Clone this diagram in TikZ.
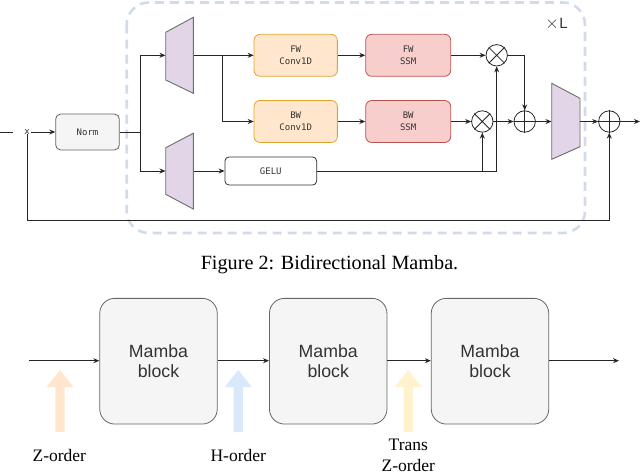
\documentclass[tikz,border=0pt]{standalone}
\usepackage{fontspec}
\setmainfont{Liberation Serif}
\newfontfamily\monof{DejaVu Sans Mono}
\newfontfamily\arialf{Liberation Sans}
\usetikzlibrary{arrows.meta}
\definecolor{grayfill}{HTML}{F5F5F5}
\definecolor{graystroke}{HTML}{666666}
\definecolor{convfill}{HTML}{FFE6CC}
\definecolor{convstroke}{HTML}{E0A530}
\definecolor{ssmfill}{HTML}{F8CECC}
\definecolor{ssmstroke}{HTML}{B85450}
\definecolor{trapfill}{HTML}{E1D5E7}
\definecolor{trapstroke}{HTML}{6E6E6E}
\definecolor{dashcol}{HTML}{D2DBEC}
\definecolor{txtcol}{HTML}{333333}
\definecolor{zcol}{HTML}{FFE6CC}
\definecolor{hcol}{HTML}{DAE8FC}
\definecolor{tcol}{HTML}{FFF2CC}
\tikzset{
  arr/.style={line width=0.9pt, draw=black!85, -{Stealth[length=6pt,width=5pt]}},
  ln/.style={line width=0.9pt, draw=black!85},
  smalltxt/.style={font=\monof\fontsize{9}{12}\selectfont, text=txtcol, align=center},
  normbox/.style={smalltxt, draw=graystroke, fill=grayfill, rounded corners=5pt, line width=0.8pt, minimum width=63.6pt, minimum height=36pt, inner sep=0pt},
  convbox/.style={smalltxt, draw=convstroke, fill=convfill, rounded corners=6pt, line width=0.8pt, minimum width=83.3pt, minimum height=42pt, inner sep=0pt},
  ssmbox/.style={smalltxt, draw=ssmstroke, fill=ssmfill, rounded corners=6pt, line width=0.8pt, minimum width=85pt, minimum height=42pt, inner sep=0pt},
  gelubox/.style={smalltxt, draw=txtcol, fill=white, rounded corners=4pt, line width=0.8pt, minimum width=91.7pt, minimum height=28pt, inner sep=0pt},
  opcirc/.style={circle, draw=black!85, fill=white, line width=0.8pt, minimum size=21.4pt, inner sep=0pt},
  trapnode/.style={draw=none, minimum width=#1, minimum height=76pt, inner sep=0pt},
  trapshape/.style={draw=trapstroke, fill=trapfill, line width=0.9pt},
  dashbox/.style={draw=dashcol, line width=2.6pt, dash pattern=on 9pt off 6pt, rounded corners=22pt},
  mamba/.style={draw=graystroke, fill=grayfill, rounded corners=15pt, line width=0.8pt, minimum width=117.5pt, minimum height=125.7pt, font=\arialf\fontsize{17.7}{20}\selectfont, text=txtcol, align=center, inner sep=0pt},
  lbl/.style={font=\fontsize{17.5}{20.5}\selectfont, align=center, inner sep=0pt},
  pics/uparrow/.style={code={\fill[#1] (-4.6,62) -- (-4.6,17) -- (-13.4,17) -- (0,0) -- (13.4,17) -- (4.6,17) -- (4.6,62) -- cycle;}}
}
\begin{document}
\begin{tikzpicture}[x=1pt,y=-1pt]
\useasboundingbox (0,0) rectangle (640,474);
% dashed repeat frame
\draw[dashbox] (126.7,2.5) rectangle (585,233);
\node[font=\arialf\fontsize{15}{15}\selectfont, text=txtcol, inner sep=0pt] (xl) at (556.5,24) {{\fontsize{19}{19}\selectfont$\times$}\kern0.5pt L};

% nodes
\coordinate (in) at (0,132);
\node[smalltxt, inner sep=1.5pt] (x) at (27,132) {x};
\node[normbox] (norm) at (87.5,132) {Norm};
\coordinate (sp) at (140.7,132);

\node[trapnode=27.6pt] (t1) at (179.5,55.3) {};
\node[trapnode=27.6pt] (t2) at (179.5,171) {};
\node[trapnode=28.3pt] (t3) at (565.85,121.5) {};
\draw[trapshape] (165.7,32.3) -- (193.3,17.3) -- (193.3,93.3) -- (165.7,80) -- cycle;
\draw[trapshape] (165.7,147.7) -- (193.3,133.3) -- (193.3,209) -- (165.7,194.3) -- cycle;
\draw[trapshape] (551.7,83.3) -- (580,98.3) -- (580,146.7) -- (551.7,159.3) -- cycle;

\node[convbox] (fwc) at (295.7,55.3) {FW\\Conv1D};
\node[convbox] (bwc) at (295.7,121.5) {BW\\Conv1D};
\node[ssmbox] (fws) at (408.2,55.3) {FW\\SSM};
\node[ssmbox] (bws) at (408.2,121.5) {BW\\SSM};
\node[gelubox] (gelu) at (270.8,171) {GELU};

\node[opcirc] (m1) at (496.7,55.3) {};
\node[opcirc] (m2) at (482.3,121.5) {};
\node[opcirc] (p1) at (524.7,121.5) {};
\node[opcirc] (p2) at (609.3,121.5) {};
\draw[ln, line width=0.8pt] (m1.north west) -- (m1.south east) (m1.north east) -- (m1.south west);
\draw[ln, line width=0.8pt] (m2.north west) -- (m2.south east) (m2.north east) -- (m2.south west);
\draw[ln, line width=0.8pt] (p1.north) -- (p1.south) (p1.west) -- (p1.east);
\draw[ln, line width=0.8pt] (p2.north) -- (p2.south) (p2.west) -- (p2.east);

\coordinate (br) at (222.7,55.3);
\coordinate (g2) at (482.3,171);
\coordinate (rb) at (27,220);
\coordinate (out) at (640,121.5);

% connectors
\draw[ln] (in) -- ([xshift=-10pt]x.west);
\draw[arr] (x) -- (norm);
\draw[ln] (norm.east) -- (sp);
\draw[arr] (sp) |- (t1.west);
\draw[arr] (sp) |- (t2.west);
\draw[arr] (t1.east) -- (fwc.west);
\draw[arr] (br) |- (bwc.west);
\draw[arr] (t2.east) -- (gelu.west);
\draw[arr] (fwc) -- (fws);
\draw[arr] (bwc) -- (bws);
\draw[arr] (fws) -- (m1);
\draw[arr] (bws) -- (m2);
\draw[arr] (gelu.east) -| (m1.south);
\draw[arr] (g2) -- (m2.south);
\draw[arr] (m1.east) -| (p1.north);
\draw[arr] (m2) -- (p1);
\draw[arr] (p1) -- (t3.west);
\draw[arr] (t3.east) -- (p2);
\draw[arr] (p2) -- (out);
\draw[arr] ([yshift=2pt]x.south) -- (rb) -| (p2.south);

% caption
\node[font=\fontsize{20.2}{24}\selectfont, inner sep=0pt] (cap) at (329.5,265) {Figure 2: Bidirectional Mamba.};

% bottom diagram
\coordinate (bin) at (29,360.7);
\coordinate (bout) at (619,360.7);
\node[mamba] (b1) at (158.5,361.2) {Mamba\\block};
\node[mamba] (b2) at (328.2,361.2) {Mamba\\block};
\node[mamba] (b3) at (490,361.2) {Mamba\\block};
\draw[arr] (bin) -- (b1.west |- bin);
\draw[arr] (b1.east |- bin) -- (b2.west |- bin);
\draw[arr] (b2.east |- bin) -- (b3.west |- bin);
\draw[arr] (b3.east |- bin) -- (bout);

\pic at (60,370) {uparrow=zcol};
\pic at (238.3,370) {uparrow=hcol};
\pic at (408.3,370) {uparrow=tcol};
\node[lbl] (lz) at (59.3,455.7) {Z-order};
\node[lbl] (lh) at (238.3,455.7) {H-order};
\node[lbl] (lt) at (408.3,455.5) {Trans\\Z-order};
\end{tikzpicture}
\end{document}
